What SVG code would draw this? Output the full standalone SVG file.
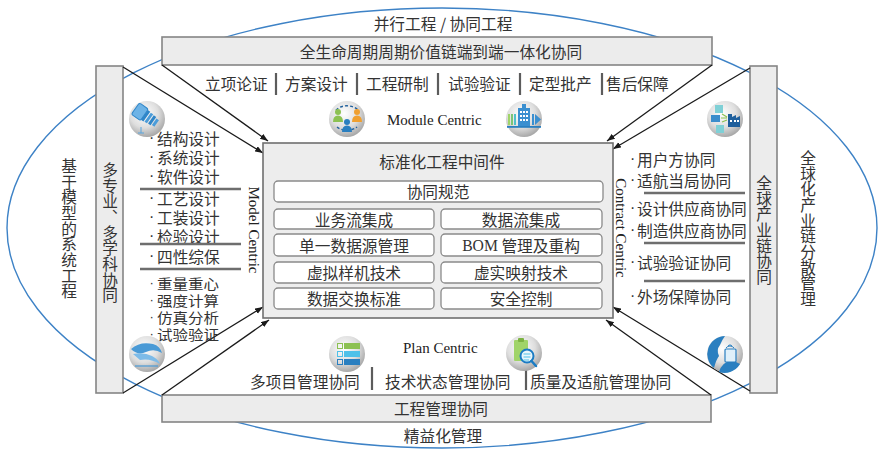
<svg xmlns="http://www.w3.org/2000/svg" width="886" height="449" viewBox="0 0 886 449">
  <defs>
    <style>
      .cjk { font-family: "Noto Sans CJK SC", "Noto Sans", sans-serif; font-size: 15.7px; fill: #333; }
      .tight { font-size: 14.2px; }
      .lat { font-family: "Liberation Serif", "DejaVu Serif", serif; font-size: 15px; fill: #222; }
      .dot { font-family: "Liberation Sans", sans-serif; font-size: 15.7px; fill: #333; dominant-baseline: central; }
      .sdot { font-size: 13px; }
      .bar { fill: #ececec; stroke: #858585; stroke-width: 1.6; }
      .core { fill: #ededed; stroke: #6f6f6f; stroke-width: 1.6; }
      .cell { fill: #ffffff; stroke: #8a8a8a; stroke-width: 1.3; }
      .sep { stroke: #6e6e6e; stroke-width: 2.5; }
      .vsep { stroke: #5c5c5c; stroke-width: 2.2; }
      .link { stroke: #1a1a1a; stroke-width: 1.3; fill: none; marker-end: url(#arrow); }
      .vert { writing-mode: vertical-rl; }
      .mid { text-anchor: middle; dominant-baseline: central; }
      .c { dominant-baseline: central; }
    </style>
    <marker id="arrow" markerUnits="userSpaceOnUse" markerWidth="9" markerHeight="7" refX="8" refY="3" orient="auto">
      <path d="M0,0 L8,3 L0,6 Z" fill="#1a1a1a"/>
    </marker>
    <radialGradient id="ball" cx="0.42" cy="0.35" r="0.65">
      <stop offset="0" stop-color="#ffffff"/>
      <stop offset="0.6" stop-color="#dedede"/>
      <stop offset="1" stop-color="#a9a9a9"/>
    </radialGradient>
  </defs>

  <!-- outer ellipse -->
  <ellipse cx="442" cy="228" rx="435" ry="220" fill="none" stroke="#3d82c6" stroke-width="1.4"/>

  <!-- frame bars -->
  <g id="bar-top">
    <rect class="bar" x="162" y="37" width="550" height="28"/>
    <text class="cjk mid" x="441" y="51">全生命周期周期价值链端到端一体化协同</text>
  </g>
  <g id="bar-bottom">
    <rect class="bar" x="162" y="395" width="549" height="27"/>
    <text class="cjk mid" x="441" y="408">工程管理协同</text>
  </g>
  <g id="bar-left">
    <rect class="bar" x="96" y="66" width="27" height="327"/>
    <text class="cjk vert" x="110" y="162" text-anchor="start">多专业、多学科协同</text>
  </g>
  <g id="bar-right">
    <rect class="bar" x="750" y="66" width="27" height="327"/>
    <text class="cjk vert" x="764" y="175" text-anchor="start">全球产业链协同</text>
  </g>

  <!-- connectors -->
  <g id="connectors">
    <line class="link" x1="162" y1="65" x2="268" y2="141"/>
    <line class="link" x1="123" y1="67" x2="263" y2="153"/>
    <line class="link" x1="712" y1="65" x2="607" y2="141"/>
    <line class="link" x1="750" y1="68" x2="613" y2="149"/>
    <line class="link" x1="123" y1="393" x2="263" y2="307"/>
    <line class="link" x1="162" y1="395" x2="269" y2="320"/>
    <line class="link" x1="711" y1="395" x2="606" y2="320"/>
    <line class="link" x1="750" y1="391" x2="613" y2="307"/>
  </g>

  <!-- outer labels -->
  <text class="cjk mid" x="443" y="23">并行工程 / 协同工程</text>
  <text class="cjk mid" x="443" y="435">精益化管理</text>
  <text class="cjk vert" x="69" y="158" text-anchor="start">基于模型的系统工程</text>
  <text class="cjk vert" x="808" y="150" text-anchor="start">全球化产业链分散管理</text>

  <!-- lifecycle phases -->
  <g id="phases">
    <text class="cjk c" x="205" y="83">立项论证</text>
    <text class="cjk c" x="285" y="83">方案设计</text>
    <text class="cjk c" x="366" y="83">工程研制</text>
    <text class="cjk c" x="448" y="83">试验验证</text>
    <text class="cjk c" x="529" y="83">定型批产</text>
    <text class="cjk c" x="606" y="83">售后保障</text>
    <line class="vsep" x1="276" y1="73" x2="276" y2="95"/>
    <line class="vsep" x1="357" y1="73" x2="357" y2="95"/>
    <line class="vsep" x1="438" y1="73" x2="438" y2="95"/>
    <line class="vsep" x1="520" y1="73" x2="520" y2="95"/>
    <line class="vsep" x1="602" y1="73" x2="602" y2="95"/>
  </g>

  <!-- management items -->
  <g id="management">
    <text class="cjk c" x="250" y="381">多项目管理协同</text>
    <text class="cjk c" x="385" y="381">技术状态管理协同</text>
    <text class="cjk c" x="530" y="381">质量及适航管理协同</text>
    <line class="vsep" x1="372" y1="367" x2="372" y2="390"/>
    <line class="vsep" x1="526" y1="369" x2="526" y2="390"/>
  </g>

  <!-- centric captions -->
  <text class="lat c" x="387" y="120">Module Centric</text>
  <text class="lat c" x="403" y="348">Plan Centric</text>
  <text class="lat mid" transform="translate(254,230) rotate(90)">Model Centric</text>
  <text class="lat mid" transform="translate(621,228) rotate(90)">Contract Centric</text>

  <!-- discipline list -->
  <g id="disciplines">
    <text class="dot" x="149" y="137">·</text><text class="cjk c" x="157" y="138">结构设计</text>
    <text class="dot" x="149" y="156">·</text><text class="cjk c" x="157" y="157">系统设计</text>
    <text class="dot" x="149" y="175">·</text><text class="cjk c" x="157" y="176">软件设计</text>
    <line class="sep" x1="140" y1="189" x2="241" y2="189"/>
    <text class="dot" x="149" y="197">·</text><text class="cjk c" x="157" y="198">工艺设计</text>
    <text class="dot" x="149" y="216">·</text><text class="cjk c" x="157" y="217">工装设计</text>
    <text class="dot" x="149" y="235">·</text><text class="cjk c" x="157" y="236">检验设计</text>
    <line class="sep" x1="140" y1="244" x2="241" y2="244"/>
    <text class="dot" x="149" y="255">·</text><text class="cjk c" x="157" y="256">四性综保</text>
    <line class="sep" x1="140" y1="269" x2="241" y2="269"/>
    <text class="dot sdot" x="149.5" y="282">·</text><text class="cjk tight c" x="157" y="282.5" textLength="62" lengthAdjust="spacingAndGlyphs">重量重心</text>
    <text class="dot sdot" x="149.5" y="299">·</text><text class="cjk tight c" x="157" y="299.8" textLength="62" lengthAdjust="spacingAndGlyphs">强度计算</text>
    <text class="dot sdot" x="149.5" y="316">·</text><text class="cjk tight c" x="157" y="317.1" textLength="62" lengthAdjust="spacingAndGlyphs">仿真分析</text>
    <text class="dot sdot" x="149.5" y="333.5">·</text><text class="cjk tight c" x="157" y="334.4" textLength="62" lengthAdjust="spacingAndGlyphs">试验验证</text>
  </g>

  <!-- partner list -->
  <g id="partners">
    <text class="dot" x="630" y="158">·</text><text class="cjk c" x="637" y="159">用户方协同</text>
    <text class="dot" x="630" y="179">·</text><text class="cjk c" x="637" y="180">适航当局协同</text>
    <line class="sep" x1="644" y1="193" x2="745" y2="193"/>
    <text class="dot" x="630" y="207">·</text><text class="cjk c" x="637" y="208">设计供应商协同</text>
    <text class="dot" x="630" y="229">·</text><text class="cjk c" x="637" y="230">制造供应商协同</text>
    <line class="sep" x1="644" y1="243" x2="745" y2="243"/>
    <text class="dot" x="630" y="261">·</text><text class="cjk c" x="637" y="262">试验验证协同</text>
    <line class="sep" x1="644" y1="281" x2="745" y2="281"/>
    <text class="dot" x="630" y="295">·</text><text class="cjk c" x="637" y="296">外场保障协同</text>
  </g>

  <!-- central middleware block -->
  <g id="middleware">
    <rect class="core" x="263" y="143" width="350" height="175"/>
    <text class="cjk mid" x="442" y="161">标准化工程中间件</text>
    <rect class="cell" x="274" y="181" width="329" height="21" rx="4"/>
    <text class="cjk mid" x="438" y="191.5">协同规范</text>
    <rect class="cell" x="274" y="209" width="160" height="20" rx="4"/>
    <text class="cjk mid" x="354" y="219">业务流集成</text>
    <rect class="cell" x="441" y="209" width="161" height="20" rx="4"/>
    <text class="cjk mid" x="521" y="219">数据流集成</text>
    <rect class="cell" x="274" y="234" width="160" height="22" rx="4"/>
    <text class="cjk mid" x="354" y="245">单一数据源管理</text>
    <rect class="cell" x="441" y="234" width="161" height="22" rx="4"/>
    <text class="cjk mid" x="521" y="245"><tspan style="font-family:'Liberation Serif',serif">BOM</tspan> 管理及重构</text>
    <rect class="cell" x="274" y="262" width="160" height="21" rx="4"/>
    <text class="cjk mid" x="354" y="272.5">虚拟样机技术</text>
    <rect class="cell" x="441" y="262" width="161" height="21" rx="4"/>
    <text class="cjk mid" x="521" y="272.5">虚实映射技术</text>
    <rect class="cell" x="274" y="288" width="160" height="21" rx="4"/>
    <text class="cjk mid" x="354" y="298.5">数据交换标准</text>
    <rect class="cell" x="441" y="288" width="161" height="21" rx="4"/>
    <text class="cjk mid" x="521" y="298.5">安全控制</text>
  </g>

  <!-- icon: mechanical part -->
  <g id="icon-part">
    <circle cx="147" cy="119" r="18" fill="url(#ball)"/>
    <g transform="translate(146,116) rotate(35)">
      <rect x="-13" y="-7" width="11" height="14" rx="2" fill="#6db3e6" stroke="#2f86c9" stroke-width="1"/>
      <rect x="-2" y="-6" width="3" height="12" fill="#2f86c9"/>
      <rect x="2" y="-5.5" width="3" height="11" fill="#4b9cd9"/>
      <rect x="6" y="-5" width="3" height="10" fill="#2f86c9"/>
      <rect x="10" y="-4" width="3" height="8" fill="#4b9cd9"/>
    </g>
    <path d="M141,127 L141,133 M138,133 L144,133" stroke="#5aa6de" stroke-width="1" fill="none"/>
  </g>

  <!-- icon: team -->
  <g id="icon-team">
    <circle cx="347" cy="119" r="18" fill="url(#ball)"/>
    <path d="M336,110 A14,11 0 0 1 358,110" stroke="#1f5f9c" stroke-width="1.4" fill="none" stroke-dasharray="3 2"/>
    <path d="M337,127 A14,11 0 0 0 357,127" stroke="#1f5f9c" stroke-width="1.4" fill="none" stroke-dasharray="3 2"/>
    <circle cx="338" cy="112" r="3" fill="#8cc152"/>
    <path d="M333,122 Q333,115.5 338,115.5 Q343,115.5 343,122 Z" fill="#8cc152"/>
    <circle cx="357" cy="112" r="3" fill="#f0a030"/>
    <path d="M352,122 Q352,115.5 357,115.5 Q362,115.5 362,122 Z" fill="#f0a030"/>
    <circle cx="347" cy="122" r="3" fill="#2a7fc0"/>
    <path d="M342,132 Q342,125.5 347,125.5 Q352,125.5 352,132 Z" fill="#2a7fc0"/>
  </g>

  <!-- icon: enterprise flow -->
  <g id="icon-enterprise">
    <circle cx="524" cy="119" r="18" fill="url(#ball)"/>
    <rect x="508" y="114" width="2" height="11" fill="#a0d468"/>
    <rect x="511" y="114" width="2" height="11" fill="#7cc576"/>
    <rect x="514" y="114" width="2" height="11" fill="#4fc1c9"/>
    <rect x="518" y="108" width="12" height="18" fill="#3a8fd0"/>
    <rect x="522" y="104" width="4" height="5" fill="#3a8fd0"/>
    <g fill="#ffffff">
      <rect x="520" y="111" width="2" height="2"/><rect x="523" y="111" width="2" height="2"/><rect x="526" y="111" width="2" height="2"/>
      <rect x="520" y="115" width="2" height="2"/><rect x="523" y="115" width="2" height="2"/><rect x="526" y="115" width="2" height="2"/>
      <rect x="520" y="119" width="2" height="2"/><rect x="523" y="119" width="2" height="2"/><rect x="526" y="119" width="2" height="2"/>
    </g>
    <rect x="532" y="114" width="2" height="11" fill="#3a8fd0"/>
    <path d="M535,114 L541,119.5 L535,125 Z" fill="#3a8fd0"/>
    <rect x="507" y="126" width="34" height="1.8" fill="#2a7fc0"/>
  </g>

  <!-- icon: supply network -->
  <g id="icon-supply">
    <circle cx="725" cy="119" r="18" fill="url(#ball)"/>
    <rect x="715" y="105" width="8" height="8" fill="#7fd0d6"/>
    <rect x="711" y="115" width="9" height="7" fill="#3b8dcc"/>
    <rect x="716" y="125" width="8" height="8" fill="#7fd0d6"/>
    <path d="M721,118 L727,118 M722,114 L727,117 M722,122 L727,120" stroke="#8cc152" stroke-width="1.2" fill="none"/>
    <path d="M728,127 L728,114 L732,114 L732,117 L736,115 L736,118 L740,116 L740,127 Z" fill="#1f5f9c"/>
    <g fill="#ffffff">
      <rect x="730" y="120" width="2" height="2"/><rect x="734" y="120" width="2" height="2"/><rect x="737" y="120" width="2" height="2"/>
    </g>
  </g>

  <!-- icon: aero surface -->
  <g id="icon-aero">
    <circle cx="147" cy="354" r="18" fill="url(#ball)"/>
    <path d="M131,349 Q140,341 153,344 Q160,346 162,353 Q154,348 146,352 Q138,356 131,349 Z" fill="#4a9ad6"/>
    <path d="M133,354 Q144,352 152,356 Q158,359 160,364 Q150,358 140,360 Z" fill="#7dbbe8"/>
    <path d="M135,366 L158,366" stroke="#4a9ad6" stroke-width="1.2"/>
  </g>

  <!-- icon: checklist -->
  <g id="icon-checklist">
    <circle cx="347" cy="354" r="18" fill="url(#ball)"/>
    <rect x="337.5" y="343.5" width="5" height="5" fill="none" stroke="#8cc152" stroke-width="1"/>
    <rect x="344" y="343" width="16" height="6" fill="#8cc152"/>
    <rect x="337.5" y="351.5" width="5" height="5" fill="none" stroke="#4fc1e9" stroke-width="1"/>
    <rect x="344" y="351" width="16" height="6" fill="#4fc1e9"/>
    <rect x="337.5" y="359.5" width="5" height="5" fill="none" stroke="#2a7fc0" stroke-width="1"/>
    <rect x="344" y="359" width="16" height="6" fill="#2a7fc0"/>
  </g>

  <!-- icon: inspection -->
  <g id="icon-inspect">
    <circle cx="524" cy="353" r="18" fill="url(#ball)"/>
    <rect x="514" y="340" width="14" height="21" rx="1" fill="#a0d468"/>
    <rect x="518" y="338" width="6" height="4" rx="1" fill="#7cb342"/>
    <circle cx="527" cy="356" r="6.5" fill="#e8f6fb" stroke="#1a7cc4" stroke-width="2"/>
    <path d="M523.5,354 L530.5,354 M523.5,357 L530.5,357 M523.5,360 L529,360" stroke="#4fc1e9" stroke-width="1"/>
    <line x1="531.5" y1="361" x2="536" y2="366" stroke="#1a7cc4" stroke-width="2.5" stroke-linecap="round"/>
  </g>

  <!-- icon: field service -->
  <g id="icon-service">
    <circle cx="725" cy="354" r="18" fill="url(#ball)"/>
    <path d="M725,336 A18,18 0 0 0 714,368 Q716,360 719,356 Q716,350 720,345 Q722,340 725,336 Z" fill="#2a7fc0"/>
    <path d="M719,372 Q722,362 732,360 L740,364 A18,18 0 0 1 719,372 Z" fill="#2a7fc0"/>
    <rect x="725" y="349" width="11" height="13" rx="1" fill="#dff0fa" stroke="#2a7fc0" stroke-width="1.2"/>
    <path d="M726,348 A5,5 0 0 1 734,348 M728,346 A2.5,2.5 0 0 1 732,346" stroke="#2a7fc0" stroke-width="1" fill="none"/>
  </g>
</svg>
